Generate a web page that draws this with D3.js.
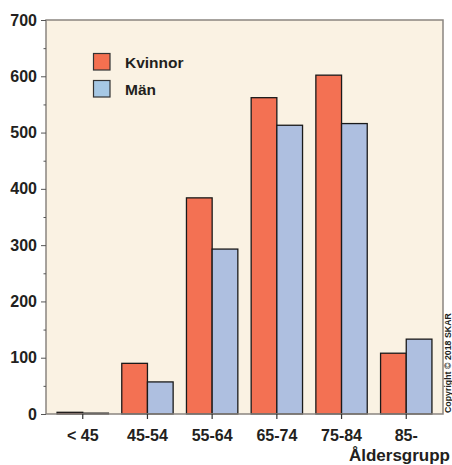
<!DOCTYPE html>
<html><head><meta charset="utf-8">
<script src="https://cdn.jsdelivr.net/npm/d3@7"></script>
<style>body{margin:0;background:#fff}svg{display:block}text{font-family:"Liberation Sans",Arial,sans-serif;font-weight:bold;fill:#231f20}</style>
</head><body>
<script>
const categories = ["< 45","45-54","55-64","65-74","75-84","85-"];
const seriesNames = ["Kvinnor","Män"];
const kvinnor = [3, 90, 384, 562, 602, 108];
const man = [1.5, 57, 293, 513, 516, 133];
const yTicks = [0,100,200,300,400,500,600,700];
const yMinor = [50,150,250,350,450,550,650];
const xTitle = "Åldersgrupp";
const copyright = "Copyright © 2018 SKAR";

const W=452,H=465;
const L=46,R=443,T=20,B=414;
const svg=d3.select("body").append("svg").attr("width",W).attr("height",H);
const y=d3.scaleLinear().domain([0,700]).range([B,T]);
const x=d3.scaleBand().domain(categories).range([L,R]).paddingInner(0.206).paddingOuter(0.171);
const sub=d3.scaleBand().domain(seriesNames).range([0,x.bandwidth()]);
const fills={"Kvinnor":"#f37153","Män":"#aebfe0"};

svg.append("rect").attr("x",L).attr("y",T).attr("width",R-L).attr("height",B-T).attr("fill","#faf2e3");

const data=categories.map((c,i)=>({c,vals:[{s:"Kvinnor",v:kvinnor[i]},{s:"Män",v:man[i]}]}));
const g=svg.append("g");
data.forEach(d=>{
  d.vals.forEach(e=>{
    g.append("rect").attr("x",x(d.c)+sub(e.s)).attr("y",y(e.v)).attr("width",sub.bandwidth()).attr("height",y(0)-y(e.v))
     .attr("fill",fills[e.s]).attr("stroke","#1a1a1a").attr("stroke-width",1.3);
  });
});

// plot border
svg.append("rect").attr("x",L).attr("y",T).attr("width",R-L).attr("height",B-T).attr("fill","none").attr("stroke","#8a8580").attr("stroke-width",1.5);

// y axis
const ya=svg.append("g").attr("transform",`translate(${L},0)`)
 .call(d3.axisLeft(y).tickValues(yTicks).tickSize(5).tickPadding(4).tickFormat(d3.format("d")));
ya.select(".domain").remove();
ya.selectAll("line").attr("stroke","#555");
ya.selectAll("text").attr("font-size",16).attr("fill","#231f20").style("font-family","Liberation Sans, Arial").style("font-weight","bold");
const ym=svg.append("g").attr("transform",`translate(${L},0)`)
 .call(d3.axisLeft(y).tickValues(yMinor).tickSize(2.5).tickFormat(""));
ym.select(".domain").remove();
ym.selectAll("line").attr("stroke","#555");

// x axis
const xa=svg.append("g").attr("transform",`translate(0,${B})`)
 .call(d3.axisBottom(x).tickSize(5).tickPadding(11));
xa.select(".domain").remove();
xa.selectAll("line").attr("stroke","#333").attr("stroke-width",1.2);
xa.selectAll("text").attr("font-size",16).attr("fill","#231f20").style("font-family","Liberation Sans, Arial").style("font-weight","bold");

svg.append("text").attr("x",450).attr("y",461).attr("text-anchor","end").attr("font-size",17).text(xTitle);

// legend
const lg=svg.append("g");
seriesNames.forEach((s,i)=>{
  lg.append("rect").attr("x",93.5).attr("y",53.5+i*27).attr("width",16.5).attr("height",16.5)
   .attr("fill",i===0?"#f47050":"#a6c8e4").attr("stroke","#333").attr("stroke-width",1.2);
  lg.append("text").attr("x",125).attr("y",67.5+i*27).attr("font-size",15.5).text(s);
});

// copyright
svg.append("text").attr("transform","translate(451,413) rotate(-90)").attr("font-size",8.8).attr("fill","#000").text(copyright);
</script>
</body></html>
